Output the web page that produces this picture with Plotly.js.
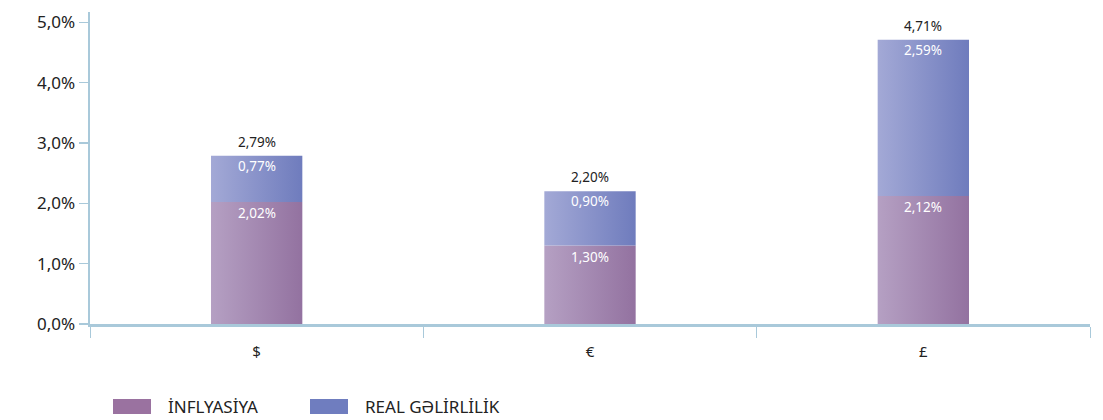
<!DOCTYPE html>
<html>
<head>
<meta charset="utf-8">
<script src="https://cdn.plot.ly/plotly-3.0.1.min.js"></script>
<style>html,body{margin:0;padding:0;background:#fff;}#chart{width:1103px;height:420px;}</style>
</head>
<body>
<div id="chart"></div>
<script>
const categories = ['$', '€', '£'];
const inflation = [2.02, 1.30, 2.12];
const realReturn = [0.77, 0.90, 2.59];
const totals = [2.79, 2.20, 4.71];
const yTicks = [0, 1, 2, 3, 4, 5];
const yTickText = ['0,0%', '1,0%', '2,0%', '3,0%', '4,0%', '5,0%'];
const seriesNames = ['İNFLYASİYA', 'REAL GƏLİRLİLİK'];

const axisColor = '#a9c9da';
const inflGrad = [[0, '#b5a0c3'], [1, '#9372a0']];
const realGrad = [[0, '#a3a9d6'], [1, '#6f7cbd']];
const halfW = 0.137;
const fontFam = '"Noto Sans", "Open Sans", sans-serif';

const traces = [];
function rect(i, y0, y1, grad) {
  return {
    type: 'scatter', mode: 'lines', fill: 'toself',
    x: [i - halfW, i + halfW, i + halfW, i - halfW, i - halfW],
    y: [y0, y0, y1, y1, y0],
    line: {width: 0, color: 'rgba(0,0,0,0)'},
    fillgradient: {type: 'horizontal', colorscale: grad},
    showlegend: false, hoverinfo: 'skip'
  };
}
categories.forEach((c, i) => {
  traces.push(rect(i, 0, inflation[i], inflGrad));
  traces.push(rect(i, inflation[i], inflation[i] + realReturn[i], realGrad));
});
const idx = categories.map((c, i) => i);
const fmt = v => v.toFixed(2).replace('.', ',') + '%';

const annotations = [];
idx.forEach(i => {
  annotations.push({x: i, y: inflation[i], xref: 'x', yref: 'y', text: fmt(inflation[i]),
    showarrow: false, yanchor: 'middle', yshift: -11,
    font: {color: '#ffffff', size: 13.5, family: fontFam}});
  annotations.push({x: i, y: inflation[i] + realReturn[i], xref: 'x', yref: 'y', text: fmt(realReturn[i]),
    showarrow: false, yanchor: 'middle', yshift: -10,
    font: {color: '#ffffff', size: 13.5, family: fontFam}});
  annotations.push({x: i, y: totals[i], xref: 'x', yref: 'y', text: fmt(totals[i]),
    showarrow: false, yanchor: 'middle', yshift: 14,
    font: {color: '#222222', size: 13.5, family: fontFam}});
});

const layout = {
  width: 1103, height: 420,
  margin: {l: 90, r: 13, t: 12, b: 96},
  paper_bgcolor: '#ffffff', plot_bgcolor: '#ffffff',
  showlegend: false,
  font: {family: fontFam, color: '#222222'},
  xaxis: {
    range: [-0.5, 2.5], tickvals: idx, ticktext: categories,
    ticks: '', ticklabelstandoff: 12,
    tickfont: {size: 15, color: '#222222', family: fontFam},
    minor: {tickvals: [-0.5, 0.5, 1.5, 2.5], ticks: 'outside', ticklen: 11, tickwidth: 1, tickcolor: axisColor, showgrid: false},
    showline: true, linecolor: axisColor, linewidth: 2.5, showgrid: false, zeroline: false
  },
  yaxis: {
    range: [0, 5.17], tickvals: yTicks, ticktext: yTickText,
    ticks: 'outside', ticklen: 9, tickwidth: 1.5, tickcolor: axisColor,
    showline: true, linecolor: axisColor, linewidth: 2.5, showgrid: false, zeroline: false,
    tickfont: {size: 17, color: '#222222', family: fontFam}
  },
  shapes: [],
  annotations: annotations
};

// legend drawn with paper-anchored shapes and annotations
const legendItems = [
  {name: seriesNames[0], color: '#9a72a0', sx: 113, tx: 166},
  {name: seriesNames[1], color: '#6f7dbf', sx: 310, tx: 363}
];
const plotH = 420 - 12 - 96, plotW = 1103 - 90 - 13;
legendItems.forEach(it => {
  const px = x => (x - 90) / plotW;
  const py = y => (420 - 96 - y) / plotH;
  layout.shapes.push({type: 'rect', xref: 'paper', yref: 'paper',
    x0: px(it.sx), x1: px(it.sx + 38), y0: py(414), y1: py(399),
    fillcolor: it.color, line: {width: 0}});
  layout.annotations.push({xref: 'paper', yref: 'paper', x: px(it.tx), y: py(406),
    xanchor: 'left', yanchor: 'middle', showarrow: false, text: it.name,
    font: {size: 17, color: '#222222', family: fontFam}});
});
Plotly.newPlot('chart', traces, layout, {displayModeBar: false, staticPlot: true});
</script>
</body>
</html>
